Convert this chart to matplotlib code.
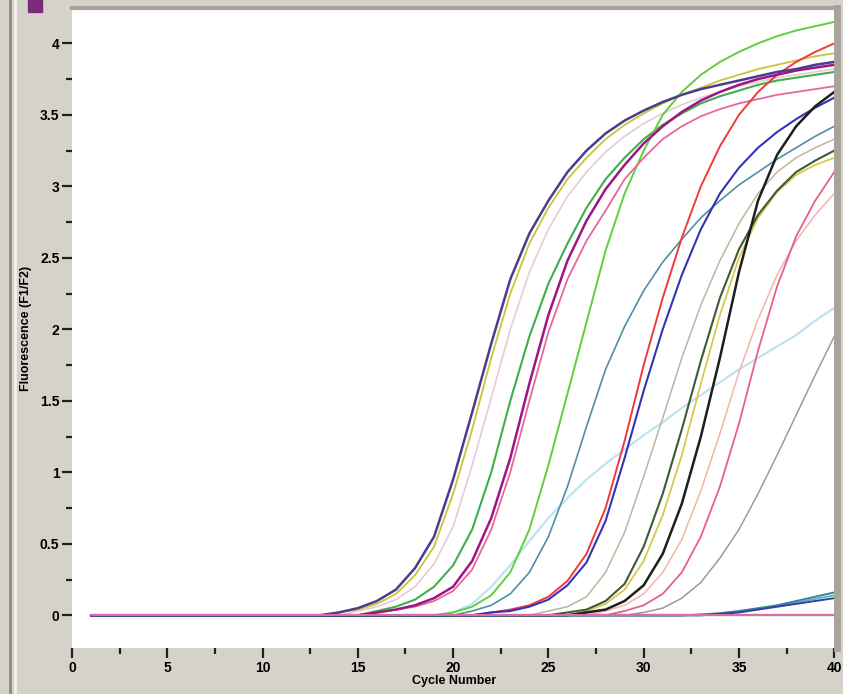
import numpy as np
import matplotlib.pyplot as plt
from matplotlib.lines import Line2D
from matplotlib.patches import Rectangle

cycles = np.arange(1, 41)

# rising part of each curve: (first cycle of the list)
navy = (14, [0.02, 0.05, 0.1, 0.18, 0.33, 0.55, 0.95, 1.42, 1.9, 2.35, 2.67, 2.9, 3.1, 3.25,
             3.37, 3.46, 3.53, 3.59, 3.64, 3.68, 3.71, 3.74, 3.77, 3.8, 3.82, 3.85, 3.87])
yellow = (14, [0.02, 0.04, 0.08, 0.15, 0.28, 0.48, 0.85, 1.3, 1.8, 2.25, 2.6, 2.85, 3.05, 3.2,
               3.33, 3.43, 3.51, 3.58, 3.64, 3.69, 3.74, 3.78, 3.82, 3.85, 3.88, 3.91, 3.93])
thistle = (15, [0.03, 0.06, 0.11, 0.2, 0.36, 0.62, 1.05, 1.52, 2.0, 2.4, 2.7, 2.93, 3.1, 3.24,
                3.35, 3.44, 3.51, 3.57, 3.62, 3.66, 3.7, 3.73, 3.76, 3.78, 3.8, 3.82])
green = (16, [0.03, 0.06, 0.11, 0.2, 0.35, 0.6, 1.0, 1.5, 1.95, 2.32, 2.6, 2.85, 3.05, 3.2,
              3.33, 3.43, 3.51, 3.58, 3.63, 3.67, 3.71, 3.74, 3.76, 3.78, 3.8])
magenta = (16, [0.02, 0.04, 0.07, 0.12, 0.2, 0.38, 0.68, 1.1, 1.62, 2.1, 2.48, 2.76, 2.98, 3.15,
                3.3, 3.42, 3.52, 3.6, 3.66, 3.71, 3.75, 3.78, 3.81, 3.83, 3.85])
pink = (16, [0.02, 0.04, 0.06, 0.1, 0.17, 0.32, 0.6, 1.0, 1.5, 1.98, 2.35, 2.62, 2.83, 3.05,
             3.2, 3.33, 3.42, 3.49, 3.54, 3.58, 3.61, 3.64, 3.66, 3.68, 3.7])
lime = (20, [0.02, 0.06, 0.14, 0.3, 0.6, 1.05, 1.55, 2.05, 2.55, 2.95, 3.25, 3.5, 3.66, 3.78,
             3.87, 3.94, 4.0, 4.05, 4.09, 4.12, 4.15])
teal = (21, [0.03, 0.07, 0.15, 0.3, 0.55, 0.9, 1.32, 1.72, 2.02, 2.27, 2.47, 2.63, 2.78, 2.9,
             3.01, 3.1, 3.19, 3.27, 3.35, 3.42])
cyan = (20, [0.02, 0.08, 0.2, 0.35, 0.52, 0.68, 0.82, 0.95, 1.06, 1.16, 1.26, 1.35, 1.45, 1.54,
             1.63, 1.72, 1.8, 1.88, 1.96, 2.06, 2.15])
red = (22, [0.02, 0.04, 0.07, 0.13, 0.24, 0.43, 0.75, 1.22, 1.75, 2.22, 2.64, 3.0, 3.28, 3.5,
            3.66, 3.78, 3.87, 3.94, 4.0])
blue = (22, [0.02, 0.03, 0.06, 0.11, 0.21, 0.37, 0.66, 1.1, 1.57, 2.0, 2.38, 2.7, 2.95, 3.13,
             3.27, 3.38, 3.47, 3.55, 3.62])
tan = (25, [0.03, 0.06, 0.13, 0.3, 0.58, 0.97, 1.38, 1.8, 2.17, 2.48, 2.74, 2.95, 3.1, 3.2,
            3.27, 3.33])
olive = (26, [0.02, 0.04, 0.1, 0.22, 0.48, 0.85, 1.3, 1.78, 2.22, 2.56, 2.8, 2.97, 3.1, 3.18,
              3.25])
gold = (27, [0.03, 0.08, 0.18, 0.38, 0.7, 1.12, 1.62, 2.1, 2.5, 2.78, 2.96, 3.08, 3.15, 3.2])
black = (27, [0.02, 0.04, 0.1, 0.21, 0.43, 0.78, 1.25, 1.8, 2.4, 2.9, 3.22, 3.42, 3.56, 3.66])
salmon = (28, [0.03, 0.07, 0.15, 0.3, 0.53, 0.87, 1.27, 1.7, 2.07, 2.38, 2.62, 2.8, 2.95])
pink_late = (29, [0.03, 0.07, 0.15, 0.3, 0.55, 0.9, 1.34, 1.85, 2.3, 2.65, 2.9, 3.1])
gray = (30, [0.02, 0.05, 0.12, 0.23, 0.4, 0.6, 0.85, 1.12, 1.4, 1.68, 1.95])
low_teal = (33, [0.005, 0.015, 0.03, 0.05, 0.07, 0.1, 0.13, 0.16])
low_blue = (34, [0.01, 0.02, 0.04, 0.06, 0.08, 0.1, 0.12])
low_cyan = (33, [0.005, 0.01, 0.025, 0.045, 0.065, 0.09, 0.115, 0.14])
flat_pink = (1, [0.0] * 40)
flat_dark = (1, [0.0] * 40)

curves = [
    (cyan, '#bfe3ee', 1.6),
    (thistle, '#e6cbd3', 1.2),
    (tan, '#bdb5a0', 1.1),
    (salmon, '#f2b6a6', 1.1),
    (gray, '#9c9c94', 1.1),
    (teal, '#4f8fa6', 1.2),
    (yellow, '#c9c43a', 1.3),
    (gold, '#d8c84c', 1.3),
    (olive, '#3e5a36', 1.5),
    (green, '#3fae4c', 1.5),
    (lime, '#5fcf3f', 1.4),
    (pink, '#e8679b', 1.3),
    (pink_late, '#e6608c', 1.3),
    (red, '#f03a3a', 1.4),
    (blue, '#3434b4', 1.5),
    (magenta, '#9e1682', 1.8),
    (black, '#1e1e1e', 1.8),
    (navy, '#4c3c8e', 1.8),
    (low_cyan, '#5ab0c8', 1.3),
    (low_teal, '#3a8494', 1.4),
    (low_blue, '#3040a6', 1.4),
    (flat_dark, '#3e4a3e', 1.6),
    (flat_pink, '#e070a4', 1.4),
]


def full_series(curve):
    """ zeros before the first read cycle, then the read values """
    start, vals = curve
    y = np.zeros(len(cycles))
    y[start - 1:start - 1 + len(vals)] = vals
    return y


fig = plt.figure(figsize=(8.43, 6.94), dpi=100, facecolor='#d5d2ca')
ax = fig.add_axes([0.0854, 0.066, 0.9076, 0.922])
ax.set_facecolor('white')

for curve, color, lw in curves:
    ax.plot(cycles, full_series(curve), color=color, lw=lw, solid_capstyle='round')

ax.set_xlim(0, 40.15)
ax.set_ylim(-0.23, 4.245)

ax.set_xticks(np.arange(0, 41, 5))
ax.set_xticks(np.arange(2.5, 40, 5), minor=True)
ax.set_yticks(np.arange(0, 4.01, 0.5))
ax.set_yticks(np.arange(0.25, 4.1, 0.5), minor=True)
ax.set_yticklabels(['0', '0.5', '1', '1.5', '2', '2.5', '3', '3.5', '4'])

fam = ['Liberation Sans', 'DejaVu Sans']
for lab in ax.get_xticklabels() + ax.get_yticklabels():
    lab.set_fontfamily(fam)
    lab.set_fontweight('bold')
    lab.set_fontsize(10)

ax.tick_params(which='major', direction='out', length=7, width=1.6, color='#202020', pad=2)
ax.tick_params(which='minor', direction='out', length=4, width=1.6, color='#202020')
ax.tick_params(axis='x', which='both', pad=2)

ax.set_xlabel('Cycle Number', family=fam, weight='bold', size=9)
ax.set_ylabel('Fluorescence (F1/F2)', family=fam, weight='bold', size=9)
ax.xaxis.set_label_coords(0.5, -0.042)
ax.yaxis.set_label_coords(-0.052, 0.5)

for side in ['left', 'bottom']:
    ax.spines[side].set_visible(False)
ax.spines['top'].set_color('#a8a49c')
ax.spines['top'].set_linewidth(3)
ax.spines['right'].set_color('#a8a49c')
ax.spines['right'].set_linewidth(5)

# window frame lines on the left and the small icon at the top
fig.add_artist(Line2D([0.012, 0.012], [0.0, 1.0], color='#8e8a82', lw=2))
fig.add_artist(Line2D([0.018, 0.018], [0.0, 1.0], color='#f2f0ea', lw=2))
fig.add_artist(Rectangle((0.033, 0.983), 0.017, 0.017, color='#7a2a7a'))

fig.savefig('out.png', dpi=100, facecolor=fig.get_facecolor())
